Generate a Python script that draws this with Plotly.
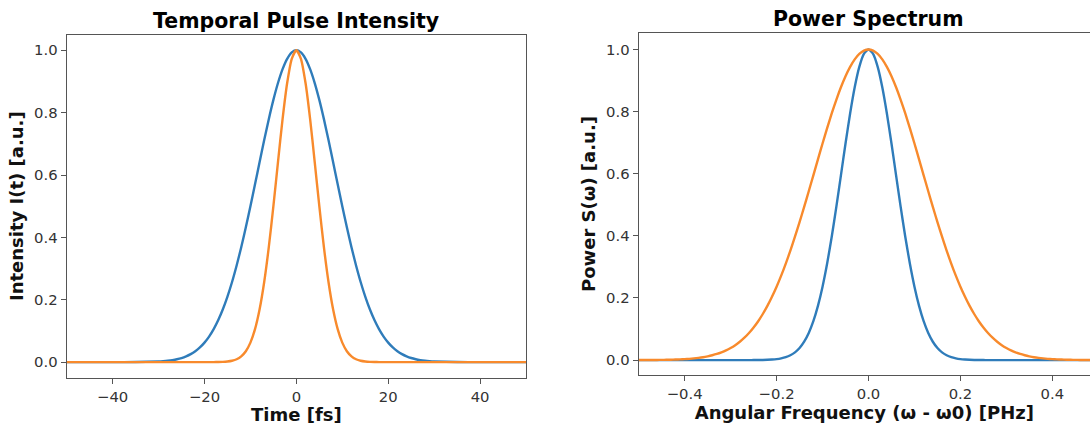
import plotly.graph_objects as go

# ---- data (normalised Gaussian pulses) ----
time_fs = [-50, -45, -40, -35,
           -30, -29, -28, -27, -26, -25, -24, -23, -22, -21, -20, -19, -18, -17, -16, -15,
           -14, -13, -12, -11, -10, -9, -8, -7, -6, -5, -4, -3, -2, -1, 0,
           1, 2, 3, 4, 5, 6, 7, 8, 9, 10, 11, 12, 13, 14, 15, 16, 17, 18, 19, 20,
           21, 22, 23, 24, 25, 26, 27, 28, 29, 30,
           35, 40, 45, 50]

intensity_blue = [0.0, 0.0, 0.0, 0.0002,
                  0.0020, 0.0029, 0.0044, 0.0064, 0.0092, 0.0131, 0.0185, 0.0256, 0.0349, 0.0470,
                  0.0625, 0.0819, 0.1058, 0.1349, 0.1695, 0.2102,
                  0.2570, 0.3100, 0.3686, 0.4323, 0.5000, 0.5704, 0.6417, 0.7120, 0.7792, 0.8409,
                  0.8950, 0.9395, 0.9727, 0.9931, 1.0000,
                  0.9931, 0.9727, 0.9395, 0.8950, 0.8409, 0.7792, 0.7120, 0.6417, 0.5704, 0.5000,
                  0.4323, 0.3686, 0.3100, 0.2570, 0.2102, 0.1695, 0.1349, 0.1058, 0.0819, 0.0625,
                  0.0470, 0.0349, 0.0256, 0.0185, 0.0131, 0.0092, 0.0064, 0.0044, 0.0029, 0.0020,
                  0.0002, 0.0, 0.0, 0.0]

intensity_orange = [0.0, 0.0, 0.0, 0.0,
                    0.0, 0.0, 0.0, 0.0, 0.0, 0.0, 0.0, 0.0, 0.0, 0.0,
                    0.0, 0.0, 0.0001, 0.0003, 0.0008, 0.0020,
                    0.0044, 0.0092, 0.0185, 0.0349, 0.0625, 0.1058, 0.1695, 0.2570, 0.3686, 0.5000,
                    0.6417, 0.7792, 0.8950, 0.9727, 1.0000,
                    0.9727, 0.8950, 0.7792, 0.6417, 0.5000, 0.3686, 0.2570, 0.1695, 0.1058, 0.0625,
                    0.0349, 0.0185, 0.0092, 0.0044, 0.0020, 0.0008, 0.0003, 0.0001, 0.0, 0.0,
                    0.0, 0.0, 0.0, 0.0, 0.0, 0.0, 0.0, 0.0, 0.0, 0.0,
                    0.0, 0.0, 0.0, 0.0]

omega_phz = [-0.50, -0.49, -0.48, -0.47, -0.46, -0.45, -0.44, -0.43, -0.42, -0.41,
             -0.40, -0.39, -0.38, -0.37, -0.36, -0.35, -0.34, -0.33, -0.32, -0.31,
             -0.30, -0.29, -0.28, -0.27, -0.26, -0.25, -0.24, -0.23, -0.22, -0.21,
             -0.20, -0.19, -0.18, -0.17, -0.16, -0.15, -0.14, -0.13, -0.12, -0.11,
             -0.10, -0.09, -0.08, -0.07, -0.06, -0.05, -0.04, -0.03, -0.02, -0.01,
             0.00,
             0.01, 0.02, 0.03, 0.04, 0.05, 0.06, 0.07, 0.08, 0.09, 0.10,
             0.11, 0.12, 0.13, 0.14, 0.15, 0.16, 0.17, 0.18, 0.19, 0.20,
             0.21, 0.22, 0.23, 0.24, 0.25, 0.26, 0.27, 0.28, 0.29, 0.30,
             0.31, 0.32, 0.33, 0.34, 0.35, 0.36, 0.37, 0.38, 0.39, 0.40,
             0.41, 0.42, 0.43, 0.44, 0.45, 0.46, 0.47, 0.48, 0.49, 0.50]

power_blue = [0.0, 0.0, 0.0, 0.0, 0.0, 0.0, 0.0, 0.0, 0.0, 0.0,
              0.0, 0.0, 0.0, 0.0, 0.0, 0.0, 0.0, 0.0, 0.0, 0.0,
              0.0, 0.0, 0.0, 0.0, 0.0, 0.0001, 0.0002, 0.0005, 0.0009, 0.0017,
              0.0031, 0.0055, 0.0093, 0.0155, 0.0249, 0.0389, 0.0591, 0.0873, 0.1252, 0.1745,
              0.2363, 0.3108, 0.3972, 0.4932, 0.5949, 0.6972, 0.7939, 0.8782, 0.9439, 0.9857,
              1.0000,
              0.9857, 0.9439, 0.8782, 0.7939, 0.6972, 0.5949, 0.4932, 0.3972, 0.3108, 0.2363,
              0.1745, 0.1252, 0.0873, 0.0591, 0.0389, 0.0249, 0.0155, 0.0093, 0.0055, 0.0031,
              0.0017, 0.0009, 0.0005, 0.0002, 0.0001, 0.0, 0.0, 0.0, 0.0, 0.0,
              0.0, 0.0, 0.0, 0.0, 0.0, 0.0, 0.0, 0.0, 0.0, 0.0,
              0.0, 0.0, 0.0, 0.0, 0.0, 0.0, 0.0, 0.0, 0.0, 0.0]

power_orange = [0.0001, 0.0002, 0.0002, 0.0003, 0.0005, 0.0007, 0.0009, 0.0013, 0.0017, 0.0023,
                0.0031, 0.0041, 0.0055, 0.0072, 0.0093, 0.0121, 0.0155, 0.0197, 0.0249, 0.0312,
                0.0389, 0.0481, 0.0591, 0.0721, 0.0873, 0.1050, 0.1252, 0.1484, 0.1745, 0.2038,
                0.2363, 0.2720, 0.3108, 0.3526, 0.3972, 0.4442, 0.4932, 0.5436, 0.5949, 0.6463,
                0.6972, 0.7467, 0.7939, 0.8380, 0.8782, 0.9138, 0.9439, 0.9681, 0.9857, 0.9964,
                1.0000,
                0.9964, 0.9857, 0.9681, 0.9439, 0.9138, 0.8782, 0.8380, 0.7939, 0.7467, 0.6972,
                0.6463, 0.5949, 0.5436, 0.4932, 0.4442, 0.3972, 0.3526, 0.3108, 0.2720, 0.2363,
                0.2038, 0.1745, 0.1484, 0.1252, 0.1050, 0.0873, 0.0721, 0.0591, 0.0481, 0.0389,
                0.0312, 0.0249, 0.0197, 0.0155, 0.0121, 0.0093, 0.0072, 0.0055, 0.0041, 0.0031,
                0.0023, 0.0017, 0.0013, 0.0009, 0.0007, 0.0005, 0.0003, 0.0002, 0.0002, 0.0001]

titles = ["Temporal Pulse Intensity", "Power Spectrum"]
x_titles = ["Time [fs]", "Angular Frequency (ω - ω0) [PHz]"]
y_titles = ["Intensity I(t) [a.u.]", "Power S(ω) [a.u.]"]
time_ticks = [-40, -20, 0, 20, 40]
time_tick_text = ["\u221240", "\u221220", "0", "20", "40"]
omega_ticks = [-0.4, -0.2, 0.0, 0.2, 0.4]
omega_tick_text = ["\u22120.4", "\u22120.2", "0.0", "0.2", "0.4"]
y_ticks = [0.0, 0.2, 0.4, 0.6, 0.8, 1.0]
y_tick_text = ["0.0", "0.2", "0.4", "0.6", "0.8", "1.0"]

BLUE = "#2f7cba"
ORANGE = "#f88a2c"
W, H = 1090, 425
FONT = "DejaVu Sans"

fig = go.Figure()
line_kw = dict(width=2.4, shape="spline", smoothing=0.6)
fig.add_trace(go.Scatter(x=time_fs, y=intensity_blue, mode="lines",
                         line=dict(color=BLUE, **line_kw), xaxis="x", yaxis="y", showlegend=False))
fig.add_trace(go.Scatter(x=time_fs, y=intensity_orange, mode="lines",
                         line=dict(color=ORANGE, **line_kw), xaxis="x", yaxis="y", showlegend=False))
fig.add_trace(go.Scatter(x=omega_phz, y=power_blue, mode="lines",
                         line=dict(color=BLUE, **line_kw), xaxis="x2", yaxis="y2", showlegend=False))
fig.add_trace(go.Scatter(x=omega_phz, y=power_orange, mode="lines",
                         line=dict(color=ORANGE, **line_kw), xaxis="x2", yaxis="y2", showlegend=False))

def px_x(p):
    return p / W

def px_y(p):
    return (H - p) / H

axis_common = dict(showgrid=False, zeroline=False, showline=True, linecolor="#555555",
                   linewidth=1.3, ticks="outside", ticklen=5, tickwidth=1.2, tickcolor="#555555",
                   tickfont=dict(family=FONT, size=14.8, color="#333333"))
title_font = dict(family=FONT, size=18, color="#111111", weight="bold")

fig.update_layout(
    width=W, height=H, margin=dict(l=0, r=0, t=0, b=0),
    paper_bgcolor="white", plot_bgcolor="white",
    font=dict(family=FONT),
    xaxis=dict(domain=[px_x(66.7), px_x(526)], range=[-50, 50], tickvals=time_ticks,
               ticktext=time_tick_text, mirror=True, anchor="y",
               title=dict(text=x_titles[0], font=title_font, standoff=3), **axis_common),
    yaxis=dict(domain=[px_y(377.7), px_y(34.7)], range=[-0.05, 1.05], tickvals=y_ticks,
               ticktext=y_tick_text, mirror=True, anchor="x",
               title=dict(text=y_titles[0], font=title_font, standoff=5), **axis_common),
    xaxis2=dict(domain=[px_x(638.7), 1.0], range=[-0.5, -0.5 + 451.3 / 459.6], tickvals=omega_ticks,
                ticktext=omega_tick_text, mirror=True, anchor="y2",
                title=dict(text=x_titles[1], font=title_font, standoff=3), **axis_common),
    yaxis2=dict(domain=[px_y(374.7), px_y(33.3)], range=[-0.047, 1.052], tickvals=y_ticks,
                ticktext=y_tick_text, mirror=False, anchor="x2",
                title=dict(text=y_titles[1], font=title_font, standoff=5), **axis_common),
    annotations=[
        dict(text=titles[0], x=px_x(296.3), y=px_y(21), xref="paper", yref="paper",
             xanchor="center", yanchor="middle", showarrow=False,
             font=dict(family=FONT, size=20.5, color="#000000", weight="bold")),
        dict(text=titles[1], x=px_x(868), y=px_y(19), xref="paper", yref="paper",
             xanchor="center", yanchor="middle", showarrow=False,
             font=dict(family=FONT, size=20.5, color="#000000", weight="bold")),
    ],
)

fig.write_html("out.html")
